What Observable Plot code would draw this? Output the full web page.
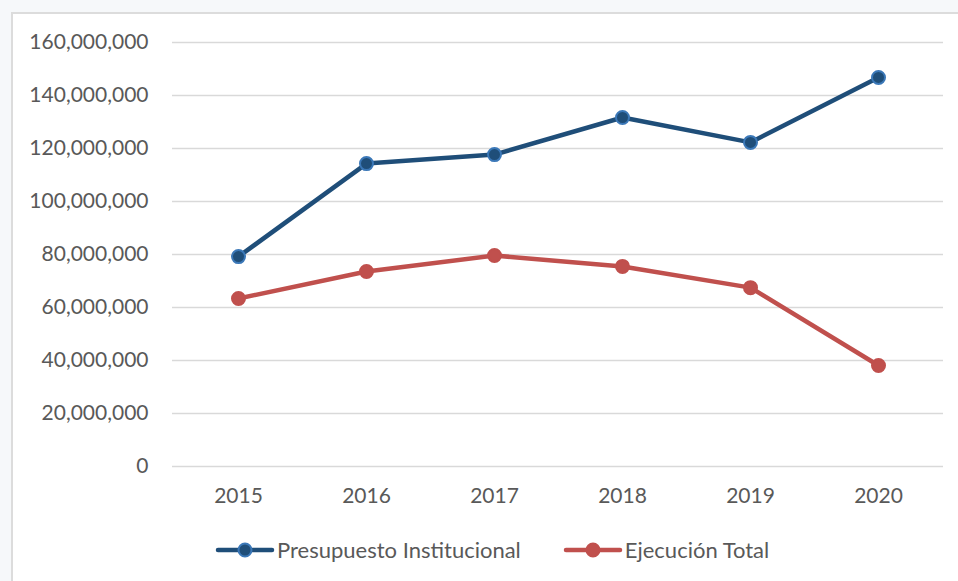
<!DOCTYPE html>
<html>
<head>
<meta charset="utf-8">
<script src="https://cdn.jsdelivr.net/npm/d3@7"></script>
<script src="https://cdn.jsdelivr.net/npm/@observablehq/plot@0.6"></script>
<style>
  html, body { margin: 0; padding: 0; background: #f6f8fa; }
  #wrap { position: relative; width: 958px; height: 581px; overflow: hidden; }
  #box { position: absolute; left: 11px; top: 12px; width: 1000px; height: 600px; background: #fff; border-left: 2px solid #dcdcdc; border-top: 2px solid #dcdcdc; }
  #chart { position: absolute; left: 0; top: 0; }
  #legend { position: absolute; top: 536px; left: 215px; display: flex; gap: 42px; font-family: Lato, sans-serif; font-size: 22px; color: #595959; }
  .item { display: flex; align-items: center; }
  .item svg { margin-right: 2px; }
</style>
</head>
<body>
<div id="wrap">
  <div id="box"></div>
  <div id="chart"></div>
  <div id="legend"></div>
</div>
<script>
const years = ["2015", "2016", "2017", "2018", "2019", "2020"];
const presupuesto = [79200000, 114300000, 117700000, 131700000, 122300000, 146800000];
const ejecucion = [63400000, 73600000, 79600000, 75500000, 67500000, 38100000];
const yTicks = [0, 20000000, 40000000, 60000000, 80000000, 100000000, 120000000, 140000000, 160000000];
const seriesNames = ["Presupuesto Institucional", "Ejecución Total"];
const lineColors = ["#1f4e79", "#c0504d"];
const markFill = ["#1f4e79", "#c0504d"];
const markStroke = ["#3b78b8", "#c0504d"];

const rows = [];
years.forEach((y, i) => {
  rows.push({year: y, value: presupuesto[i], series: seriesNames[0]});
  rows.push({year: y, value: ejecucion[i], series: seriesNames[1]});
});

const fmt = d3.format(",");

const plot = Plot.plot({
  width: 958,
  height: 520,
  marginLeft: 172,
  marginRight: 15,
  marginTop: 42,
  marginBottom: 54,
  style: { fontFamily: "Lato, sans-serif", fontSize: "21px", color: "#595959", background: "transparent" },
  x: { type: "point", domain: years, padding: 0.5, label: null },
  y: { domain: [0, 160000000], label: null },
  marks: [
    Plot.ruleY(yTicks, { stroke: "#d9d9d9", strokeWidth: 1.3 }),
    Plot.axisY({ ticks: yTicks, tickSize: 0, tickPadding: 24, tickFormat: fmt, fill: "#595959", fontSize: 21 }),
    Plot.axisX({ tickSize: 0, tickPadding: 22, fill: "#595959", fontSize: 21 }),
    Plot.line(rows, { x: "year", y: "value", z: "series", stroke: d => lineColors[seriesNames.indexOf(d.series)], strokeWidth: 4.5, strokeLinejoin: "round" }),
    Plot.dot(rows, { x: "year", y: "value", r: 6.5,
      fill: d => markFill[seriesNames.indexOf(d.series)],
      stroke: d => markStroke[seriesNames.indexOf(d.series)], strokeWidth: 2 })
  ]
});
document.getElementById("chart").appendChild(plot);

const legend = document.getElementById("legend");
seriesNames.forEach((name, i) => {
  const item = document.createElement("div");
  item.className = "item";
  item.innerHTML = `<svg width="60" height="20"><line x1="3" y1="10" x2="57" y2="10" stroke="${lineColors[i]}" stroke-width="4.5" stroke-linecap="round"/><circle cx="30" cy="10" r="6.5" fill="${markFill[i]}" stroke="${markStroke[i]}" stroke-width="2"/></svg><span>${name}</span>`;
  legend.appendChild(item);
});
</script>
</body>
</html>
